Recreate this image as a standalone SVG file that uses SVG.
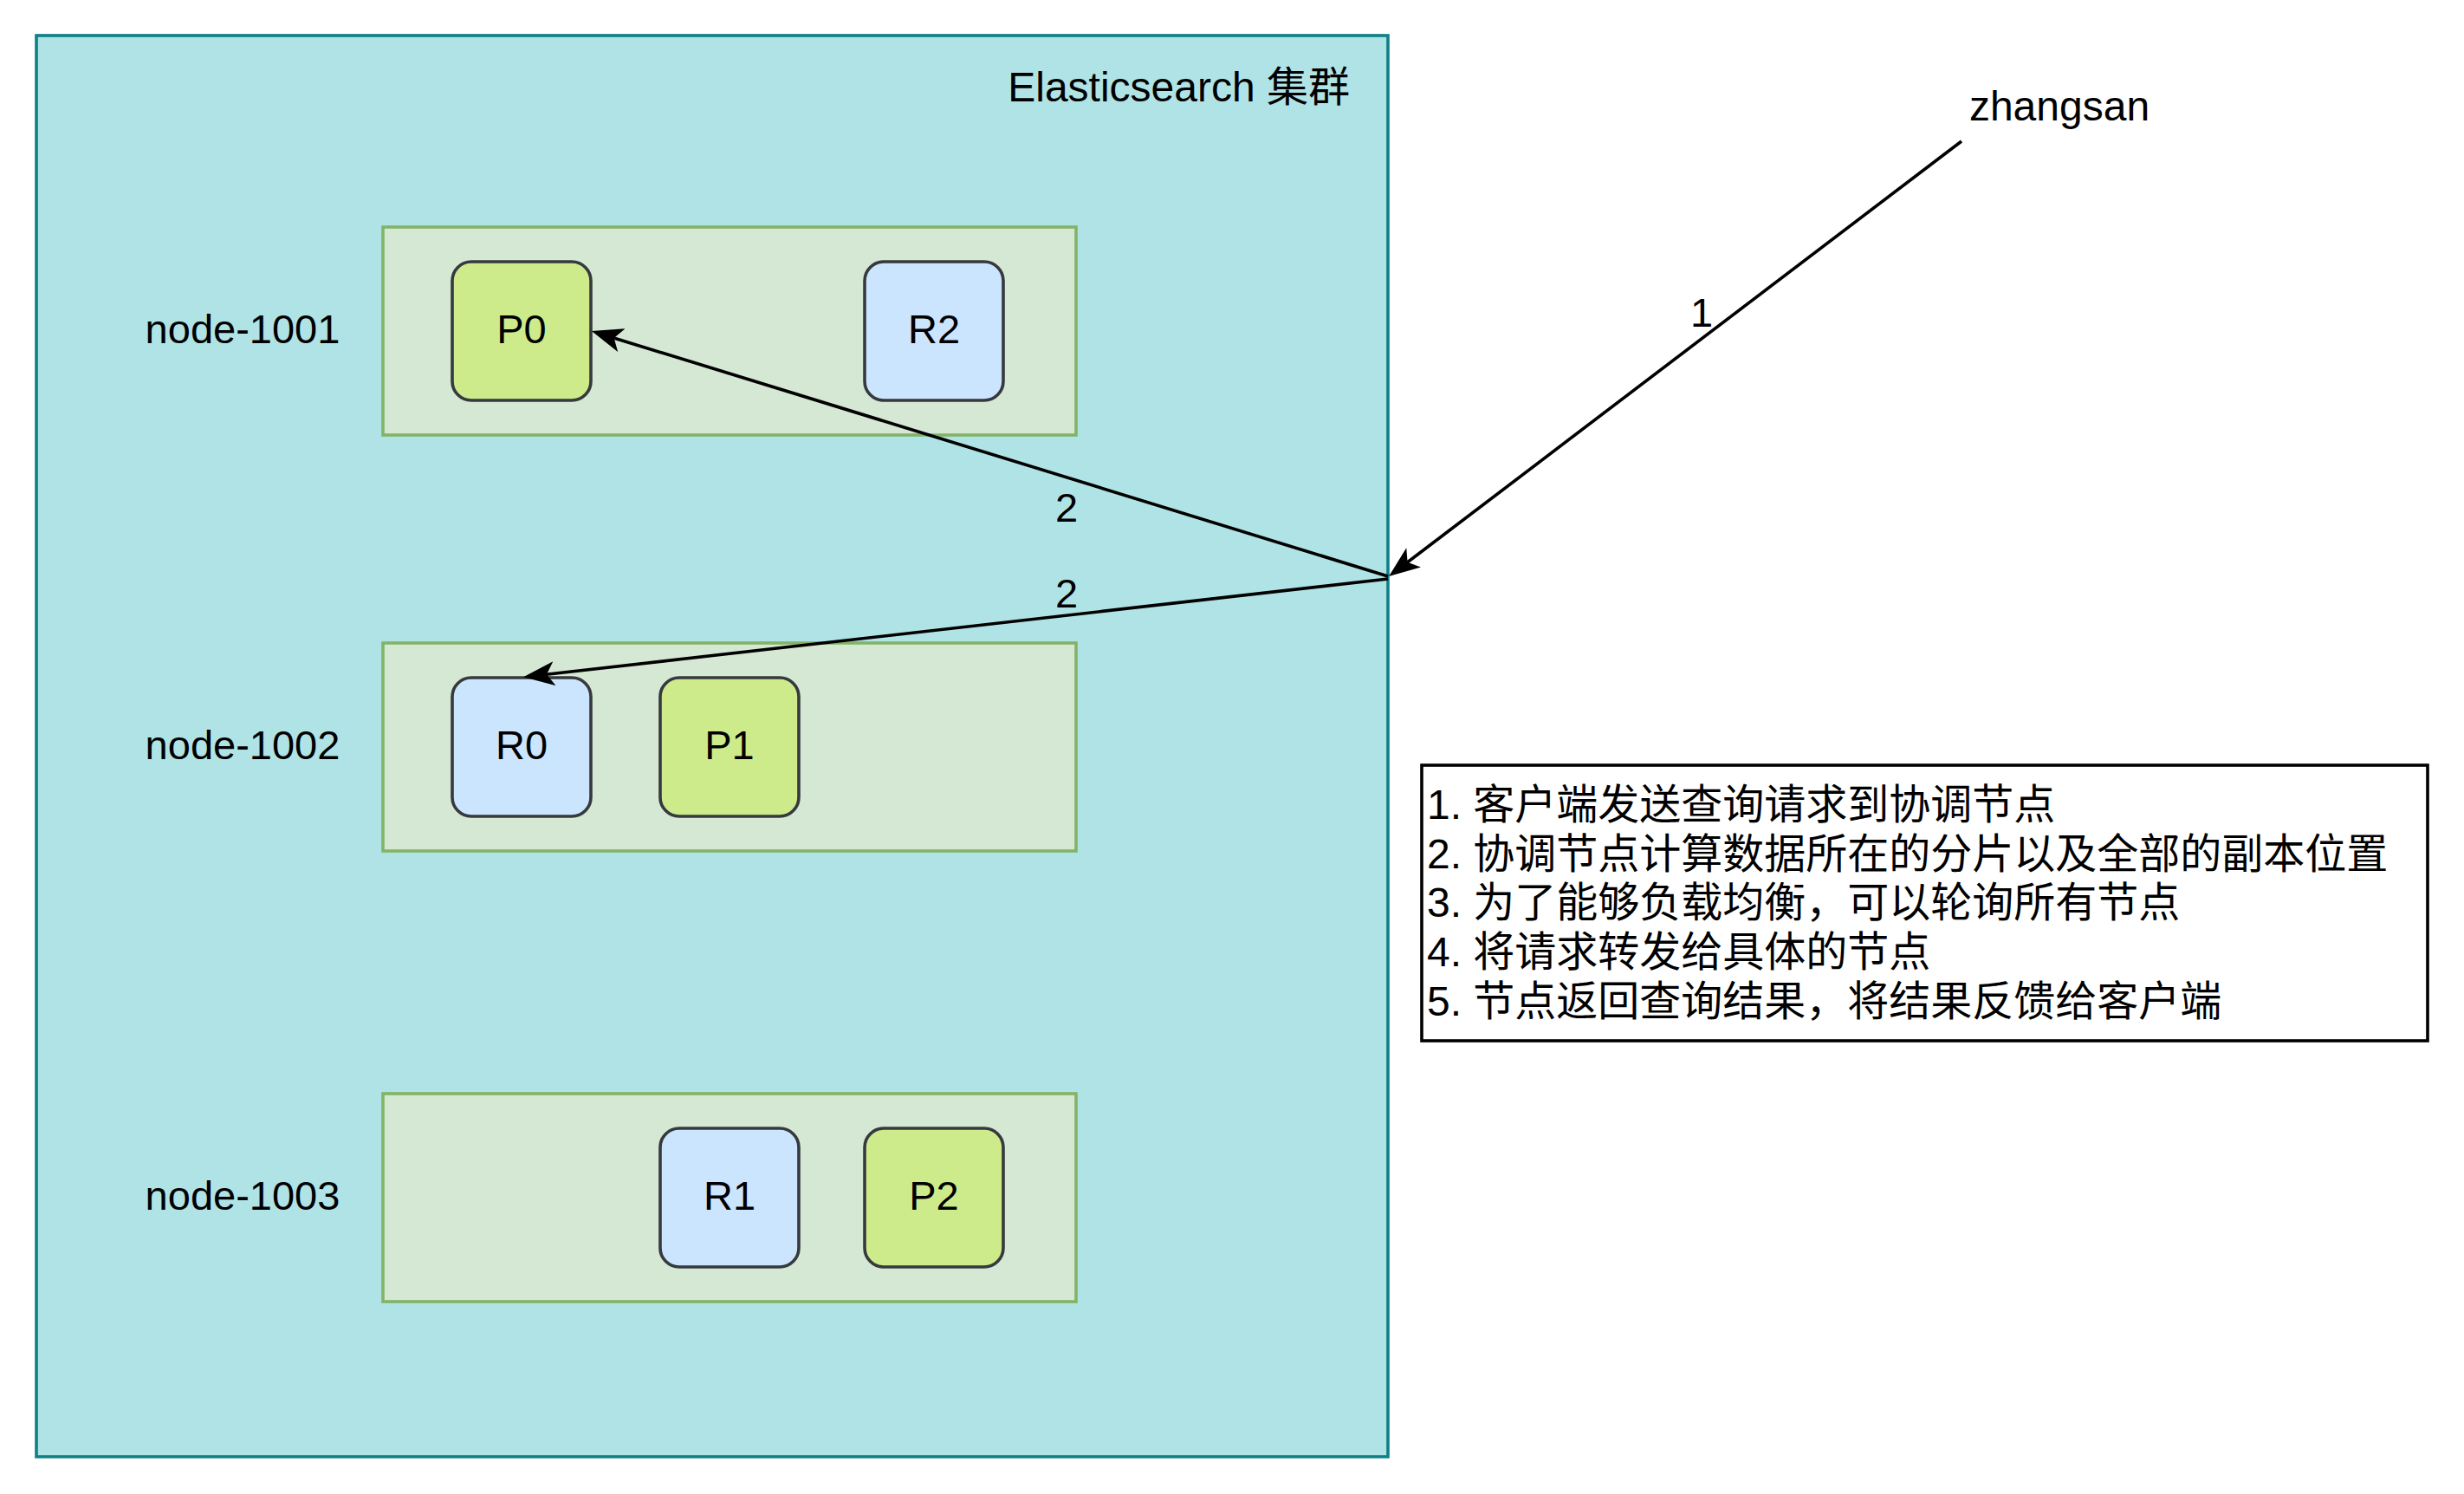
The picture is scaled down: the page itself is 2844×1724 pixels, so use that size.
<svg xmlns="http://www.w3.org/2000/svg" width="2844" height="1724" viewBox="0 0 2844 1724">
  <style>
    .t { font-family: "Liberation Sans", "Noto Sans CJK SC", sans-serif; fill: #000000; }
    .lbl { font-size: 47px; text-anchor: middle; }
    .big { font-size: 48px; }
    .cluster { fill: #b0e3e6; stroke: #0e8088; stroke-width: 3.6; }
    .host { fill: #d5e8d4; stroke: #82b366; stroke-width: 3.6; }
    .pri { fill: #cdeb8b; stroke: #36393d; stroke-width: 3.6; }
    .rep { fill: #cce5ff; stroke: #36393d; stroke-width: 3.6; }
    .edge { fill: none; stroke: #000000; stroke-width: 3.6; marker-end: url(#arrow); }
    .legend { fill: #ffffff; stroke: #000000; stroke-width: 3.6; }
  </style>
  <defs>
    <marker id="arrow" viewBox="0 0 36 28" refX="16" refY="14" markerWidth="36" markerHeight="28" markerUnits="userSpaceOnUse" orient="auto">
      <path d="M0,0 L36,14 L0,28 L9,14 Z" fill="#000000"/>
    </marker>
  </defs>
  <rect x="0" y="0" width="2844" height="1724" fill="#ffffff"/>

  <g id="cluster">
    <rect class="cluster" x="42" y="41" width="1560" height="1640"/>
    <text class="t big" x="1558" y="117" text-anchor="end">Elasticsearch 集群</text>
  </g>

  <g id="node-1001">
    <rect class="host" x="442" y="262" width="800" height="240"/>
    <text class="t lbl" x="280" y="396">node-1001</text>
  </g>
  <g id="node-1002">
    <rect class="host" x="442" y="742" width="800" height="240"/>
    <text class="t lbl" x="280" y="876">node-1002</text>
  </g>
  <g id="node-1003">
    <rect class="host" x="442" y="1262" width="800" height="240"/>
    <text class="t lbl" x="280" y="1396">node-1003</text>
  </g>

  <g id="shard-P0">
    <rect class="pri" x="522" y="302" width="160" height="160" rx="22" ry="22"/>
    <text class="t lbl" x="602" y="396">P0</text>
  </g>
  <g id="shard-R2">
    <rect class="rep" x="998" y="302" width="160" height="160" rx="22" ry="22"/>
    <text class="t lbl" x="1078" y="396">R2</text>
  </g>
  <g id="shard-R0">
    <rect class="rep" x="522" y="782" width="160" height="160" rx="22" ry="22"/>
    <text class="t lbl" x="602" y="876">R0</text>
  </g>
  <g id="shard-P1">
    <rect class="pri" x="762" y="782" width="160" height="160" rx="22" ry="22"/>
    <text class="t lbl" x="842" y="876">P1</text>
  </g>
  <g id="shard-R1">
    <rect class="rep" x="762" y="1302" width="160" height="160" rx="22" ry="22"/>
    <text class="t lbl" x="842" y="1396">R1</text>
  </g>
  <g id="shard-P2">
    <rect class="pri" x="998" y="1302" width="160" height="160" rx="22" ry="22"/>
    <text class="t lbl" x="1078" y="1396">P2</text>
  </g>

  <g id="client-zhangsan">
    <text class="t big" x="2377" y="139" text-anchor="middle">zhangsan</text>
  </g>

  <g id="connectors">
    <path class="edge" d="M2264,163 L1619,653"/>
    <text class="t lbl" x="1964" y="377">1</text>
    <path class="edge" d="M1602,665 L702,388"/>
    <text class="t lbl" x="1231" y="602">2</text>
    <path class="edge" d="M1602,668 L624,779"/>
    <text class="t lbl" x="1231" y="701">2</text>
  </g>

  <g id="legend">
    <rect class="legend" x="1641" y="883" width="1161" height="318"/>
    <text class="t big" x="1647" y="945">1. 客户端发送查询请求到协调节点</text>
    <text class="t big" x="1647" y="1002">2. 协调节点计算数据所在的分片以及全部的副本位置</text>
    <text class="t big" x="1647" y="1058">3. 为了能够负载均衡，可以轮询所有节点</text>
    <text class="t big" x="1647" y="1115">4. 将请求转发给具体的节点</text>
    <text class="t big" x="1647" y="1172">5. 节点返回查询结果，将结果反馈给客户端</text>
  </g>
</svg>
